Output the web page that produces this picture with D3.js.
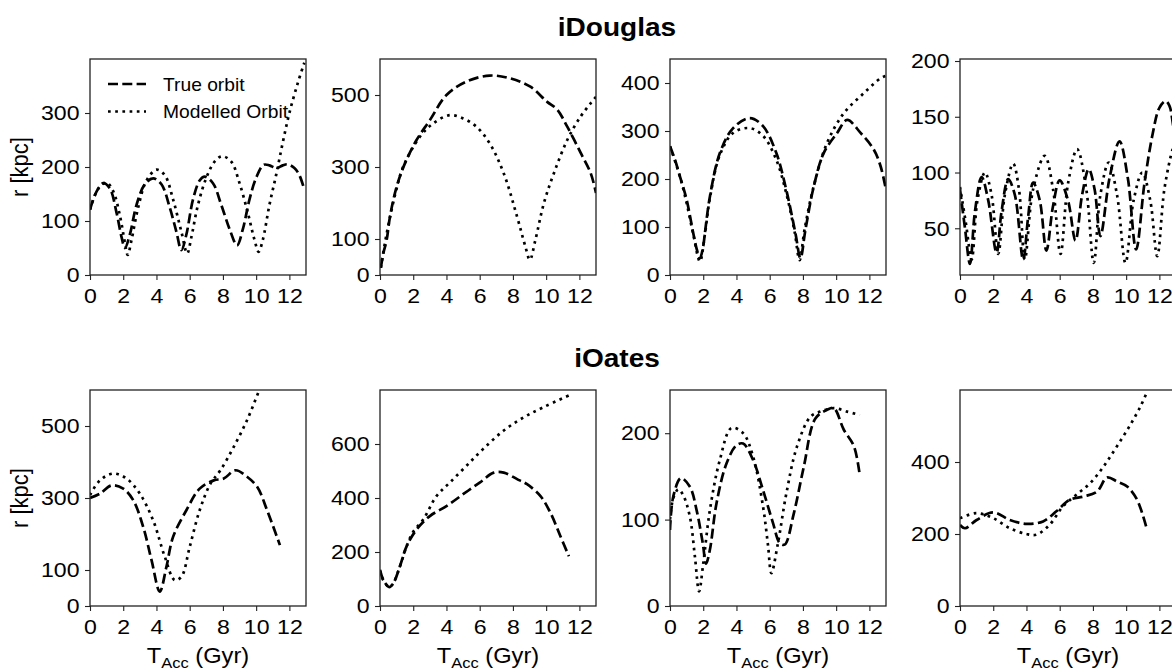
<!DOCTYPE html>
<html>
<head>
<meta charset="utf-8">
<script src="https://cdn.jsdelivr.net/npm/d3@7"></script>
<style>
  body { margin: 0; background: #fff; }
  svg { display: block; font-family: "Liberation Sans", Arial, sans-serif; }
</style>
</head>
<body>
<svg id="chart" width="1172" height="671"></svg>
<script>
// ---- Orbit radii r [kpc] versus look-back time T_Acc [Gyr], pairs of [t, r] ----

// iDouglas
const douglas1True = [[0,121],[0.4,155],[0.8,170],[1.2,160],[1.6,115],[1.9,70],[2.1,50],[2.4,75],[2.8,130],[3.3,168],[3.8,179],[4.3,168],[4.8,125],[5.2,80],[5.5,46],[5.8,75],[6.2,140],[6.6,175],[6.9,182],[7.4,170],[7.9,130],[8.4,85],[8.85,55],[9.2,85],[9.6,140],[10.0,180],[10.45,204],[10.8,203],[11.2,198],[11.6,203],[11.9,205],[12.3,198],[12.6,185],[12.9,158]];
const douglas1Model = [[0,121],[0.5,160],[1.0,171],[1.4,155],[1.8,110],[2.1,60],[2.27,37],[2.5,65],[2.9,125],[3.4,175],[4.0,195],[4.5,185],[5.0,140],[5.5,80],[5.85,40],[6.1,70],[6.5,130],[7.0,180],[7.5,210],[7.95,220],[8.5,210],[9.0,170],[9.5,115],[9.9,65],[10.15,43],[10.4,65],[10.8,130],[11.2,185],[11.6,245],[12.0,300],[12.5,355],[12.9,393]];

const douglas2True = [[0.05,20],[0.2,60],[0.4,97],[0.6,162],[1.0,245],[1.5,310],[2.2,375],[3.0,430],[4.0,500],[5.2,537],[6.6,554],[7.85,546],[9.05,523],[10.06,481],[10.66,460],[11.27,412],[12.08,339],[12.68,283],[13.0,228]];
const douglas2Model = [[0.05,20],[0.3,90],[0.6,160],[1.0,240],[1.4,301],[2.4,384],[3.2,421],[4.2,444],[5.0,435],[5.8,412],[6.6,366],[7.45,282],[8.25,162],[8.75,79],[9.02,42],[9.35,97],[9.86,199],[10.46,282],[11.27,375],[12.07,440],[12.68,477],[13.0,495]];

const douglas3True = [[0,268],[0.3,240],[0.6,205],[1.0,157],[1.4,87],[1.6,55],[1.8,35],[2.0,60],[2.1,87],[2.4,163],[3.0,254],[3.8,306],[4.8,327],[5.6,310],[6.4,254],[7.0,177],[7.55,87],[7.85,35],[8.15,94],[8.65,184],[9.25,254],[10.06,296],[10.66,323],[11.47,296],[12.27,261],[12.68,226],[13.0,177]];
const douglas3Model = [[0,268],[0.6,205],[1.0,150],[1.4,85],[1.8,28],[2.1,85],[2.4,160],[3.0,250],[3.8,296],[4.8,306],[5.6,290],[6.4,240],[7.0,170],[7.5,90],[7.8,31],[8.1,95],[8.65,185],[9.45,275],[10.46,337],[11.67,379],[12.68,410],[13.0,415]];

const douglas4True = [[0,85],[0.3,50],[0.6,18],[0.9,65],[1.3,96],[1.7,75],[2.2,28],[2.5,65],[2.9,94],[3.3,80],[3.8,22],[4.1,60],[4.4,91],[4.8,75],[5.2,30],[5.6,70],[6.0,93],[6.5,75],[6.95,39],[7.35,80],[7.75,103],[8.1,85],[8.45,43],[9.0,95],[9.6,128],[10.1,95],[10.6,31],[11.1,90],[11.6,135],[12.0,158],[12.37,164],[12.6,160],[12.8,145],[13.0,120]];
const douglas4Model = [[0,87],[0.35,55],[0.7,22],[1.05,75],[1.5,100],[1.9,80],[2.3,27],[2.7,80],[3.2,108],[3.55,85],[3.9,22],[4.4,85],[5.1,115],[5.6,85],[6.05,27],[6.5,90],[7.05,121],[7.6,85],[8.05,19],[8.45,80],[8.95,109],[9.45,80],[9.96,19],[10.45,75],[10.97,100],[11.45,75],[11.87,25],[12.3,85],[12.8,121],[13.0,128]];

// iOates
const oates1True = [[0,300],[0.6,312],[1.3,335],[2.0,326],[2.6,294],[3.2,220],[3.7,128],[4.2,40],[4.6,109],[5.0,192],[5.8,266],[6.6,326],[7.45,349],[8.05,354],[8.75,377],[9.45,359],[10.06,331],[10.66,266],[11.43,169]];
const oates1Model = [[0,308],[0.6,349],[1.4,368],[2.2,354],[3.0,312],[3.8,238],[4.5,137],[5.1,72],[5.5,81],[6.0,164],[6.6,266],[7.25,340],[7.85,377],[8.65,442],[9.45,516],[10.06,585],[10.3,612]];

const oates2True = [[0,134],[0.2,97],[0.56,70],[0.8,84],[1.2,147],[1.6,221],[2.2,283],[3.0,333],[4.0,370],[5.0,414],[6.0,457],[6.85,494],[7.45,494],[8.25,470],[8.85,451],[9.66,407],[10.26,345],[10.86,258],[11.37,184]];
const oates2Model = [[0,130],[0.2,95],[0.56,70],[0.8,84],[1.2,147],[1.6,221],[2.0,275],[2.6,320],[3.4,407],[4.2,457],[5.2,519],[6.2,581],[7.45,650],[8.65,699],[9.86,737],[11.37,780]];

const oates3True = [[0,88],[0.2,127],[0.66,148],[1.2,138],[1.6,111],[1.97,73],[2.17,49],[2.4,65],[2.8,119],[3.4,165],[4.0,186],[4.4,188],[5.0,169],[5.6,134],[6.2,96],[6.6,73],[6.9,71],[7.45,107],[8.05,161],[8.75,217],[9.45,227],[9.86,229],[10.46,204],[11.07,185],[11.43,150]];
const oates3Model = [[0,100],[0.2,125],[0.5,135],[0.8,128],[1.2,103],[1.5,57],[1.75,17],[2.0,49],[2.4,111],[3.0,169],[3.7,206],[4.4,200],[5.0,173],[5.6,115],[5.9,70],[6.1,38],[6.5,73],[7.0,130],[7.65,185],[8.45,219],[9.05,225],[9.86,229],[10.66,225],[11.43,221]];

const oates4True = [[0,225],[0.3,216],[1.0,239],[2.0,260],[3.0,239],[4.0,228],[5.0,235],[5.8,263],[6.6,295],[7.45,304],[8.25,318],[8.85,357],[9.45,346],[10.06,332],[10.66,295],[11.23,216]];
const oates4Model = [[0,244],[1.0,258],[2.0,244],[3.0,216],[4.0,200],[4.6,198],[5.4,226],[6.2,277],[7.0,309],[7.85,342],[8.65,388],[9.45,444],[10.26,504],[10.87,555],[11.23,592]];

// ---- Axis ranges and tick labels ----
const timeDomain = [0, 13];
const timeTicks = [0, 2, 4, 6, 8, 10, 12];
const radiusDomains = [[0,400],[0,600],[0,450],[8.1,201.8],[0,600],[0,800],[0,250],[0,600]];
const radiusTicks = [[0,100,200,300],[0,100,300,500],[0,100,200,300,400],[50,100,150,200],[0,100,300,500],[0,200,400,600],[0,100,200],[0,200,400]];
const rowTitles = ["iDouglas", "iOates"];
const legendLabels = ["True orbit", "Modelled Orbit"];
const trueSeries = [douglas1True, douglas2True, douglas3True, douglas4True, oates1True, oates2True, oates3True, oates4True];
const modelSeries = [douglas1Model, douglas2Model, douglas3Model, douglas4Model, oates1Model, oates2Model, oates3Model, oates4Model];

// ---- Layout ----
const colLeft = [90, 380, 670, 960];
const rowTop = [59, 390];
const side = 216;
const lineWidth = 2.7;
const dashPattern = "10,4.3";
const dotPattern = "2.7,4.5";
const tickFont = 21;
const textWiden = 1.1;   // glyphs are set slightly wide

// Move a text's x/y into a transform so it can be widened around its anchor
function widen(sel, extra) {
  sel.each(function () {
    const t = d3.select(this);
    const tx = +t.attr("x") || 0, ty = +t.attr("y") || 0;
    t.attr("x", 0).attr("y", 0)
      .attr("transform", `translate(${tx},${ty}) scale(${textWiden},1)${extra || ""}`);
  });
  return sel;
}

const svg = d3.select("#chart");

// Row titles
rowTitles.forEach((t, i) => {
  svg.append("text")
    .attr("x", 617).attr("y", i === 0 ? 36 : 367)
    .attr("text-anchor", "middle")
    .attr("font-size", 25.5).attr("font-weight", "bold")
    .attr("fill", "#000")
    .text(t)
    .call(widen);
});

const line = d3.line().curve(d3.curveCatmullRom.alpha(0.5));

for (let k = 0; k < 8; k++) {
  const row = Math.floor(k / 4), col = k % 4;
  const x0 = colLeft[col], y0 = rowTop[row];
  const g = svg.append("g").attr("transform", `translate(${x0},${y0})`);

  const x = d3.scaleLinear().domain(timeDomain).range([0, side]);
  const y = d3.scaleLinear().domain(radiusDomains[k]).range([side, 0]);

  const clipId = "clip" + k;
  g.append("clipPath").attr("id", clipId)
    .append("rect").attr("width", side).attr("height", side);

  const plot = g.append("g").attr("clip-path", `url(#${clipId})`);
  line.x(d => x(d[0])).y(d => y(d[1]));

  plot.append("path").datum(trueSeries[k])
    .attr("d", line).attr("fill", "none").attr("stroke", "#000")
    .attr("stroke-width", lineWidth).attr("stroke-dasharray", dashPattern);
  plot.append("path").datum(modelSeries[k])
    .attr("d", line).attr("fill", "none").attr("stroke", "#000")
    .attr("stroke-width", lineWidth).attr("stroke-dasharray", dotPattern);

  // Axes
  const xAxis = g.append("g").attr("transform", `translate(0,${side})`)
    .call(d3.axisBottom(x).tickValues(timeTicks).tickSize(5).tickPadding(8.5));
  const yAxis = g.append("g")
    .call(d3.axisLeft(y).tickValues(radiusTicks[k]).tickSize(5).tickPadding(5.5));
  [xAxis, yAxis].forEach(a => {
    a.select(".domain").remove();
    a.selectAll(".tick line").attr("stroke", "#222").attr("stroke-width", 1.1);
    a.selectAll(".tick text").attr("font-size", tickFont).attr("fill", "#000")
      .attr("font-family", '"Liberation Sans", Arial, sans-serif')
      .call(widen);
  });

  // Frame
  g.append("rect").attr("width", side).attr("height", side)
    .attr("fill", "none").attr("stroke", "#222").attr("stroke-width", 1.3);

  if (col === 0) {
    g.append("text")
      .attr("x", -62).attr("y", side / 2)
      .attr("text-anchor", "middle").attr("font-size", 22).attr("fill", "#000")
      .text("r [kpc]")
      .call(widen, " rotate(-90)");
  }
  if (row === 1) {
    const lab = g.append("text")
      .attr("x", side / 2).attr("y", side + 57)
      .attr("text-anchor", "middle").attr("font-size", 21.5).attr("fill", "#000");
    lab.append("tspan").text("T");
    lab.append("tspan").attr("font-size", 15).attr("dy", 5).text("Acc");
    lab.append("tspan").attr("dy", -5).text(" (Gyr)");
    widen(lab);
  }
  if (k === 0) {
    const leg = g.append("g");
    [dashPattern, dotPattern].forEach((p, i) => {
      const ly = 25 + i * 27.5;
      leg.append("line").attr("x1", 18).attr("x2", 56)
        .attr("y1", ly).attr("y2", ly)
        .attr("stroke", "#000").attr("stroke-width", lineWidth)
        .attr("stroke-dasharray", p);
      leg.append("text").attr("x", 73).attr("y", ly + 6.5)
        .attr("font-size", 17.5).attr("fill", "#000")
        .text(legendLabels[i])
        .call(widen);
    });
  }
}
</script>
</body>
</html>
